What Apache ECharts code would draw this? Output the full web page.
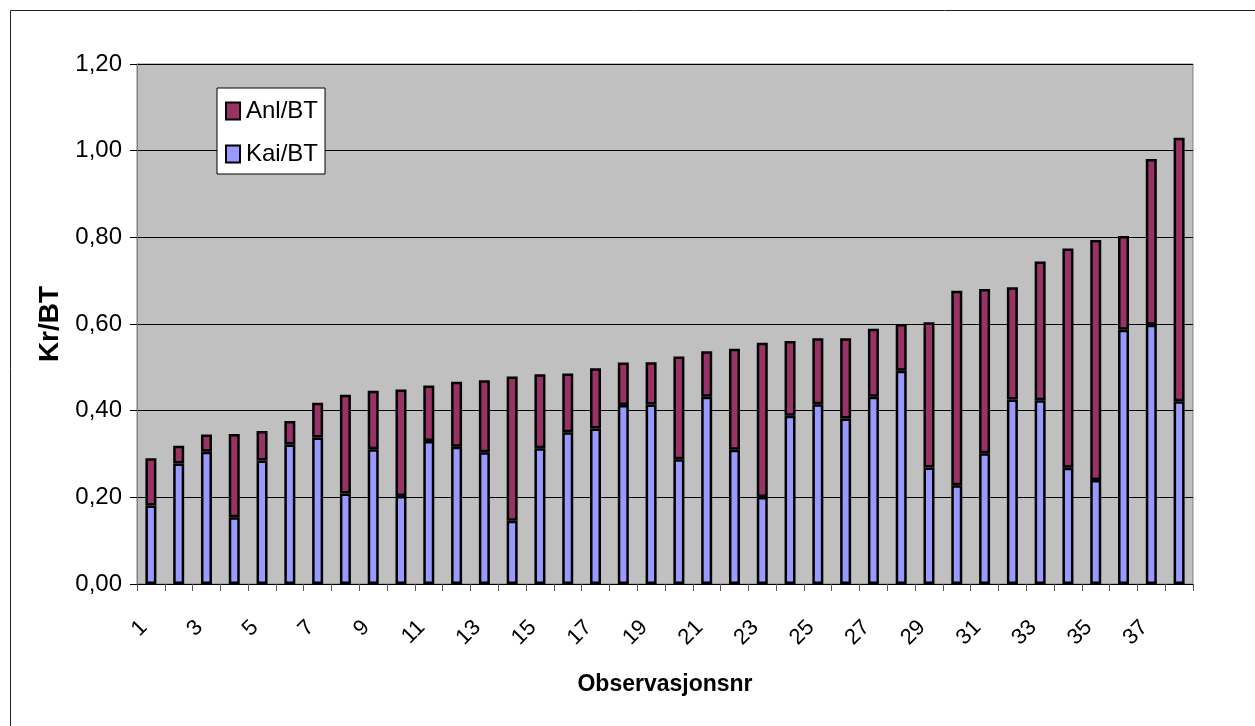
<!DOCTYPE html>
<html>
<head>
<meta charset="utf-8">
<script src="https://cdn.jsdelivr.net/npm/echarts@6/dist/echarts.min.js"></script>
<style>
  html, body { margin: 0; padding: 0; background: #fff; }
  #chart { width: 1255px; height: 726px; }
</style>
</head>
<body>
<div id="chart"></div>
<script>
// Observation numbers 1..38
const observations = [
  '1','2','3','4','5','6','7','8','9','10','11','12','13','14','15','16','17','18','19',
  '20','21','22','23','24','25','26','27','28','29','30','31','32','33','34','35','36','37','38'
];

// Kai/BT (lower part of each stacked bar)
const kaiBT = [
  0.181, 0.278, 0.305, 0.154, 0.285, 0.322, 0.338, 0.209, 0.311, 0.203,
  0.330, 0.317, 0.304, 0.146, 0.313, 0.350, 0.359, 0.413, 0.414, 0.288,
  0.432, 0.310, 0.201, 0.388, 0.415, 0.382, 0.432, 0.492, 0.269, 0.228,
  0.302, 0.426, 0.424, 0.268, 0.240, 0.587, 0.598, 0.422
];

// Anl/BT (upper part of each stacked bar)
const anlBT = [
  0.109, 0.041, 0.040, 0.192, 0.068, 0.054, 0.080, 0.228, 0.135, 0.246,
  0.128, 0.150, 0.166, 0.333, 0.171, 0.136, 0.139, 0.098, 0.098, 0.237,
  0.105, 0.233, 0.356, 0.173, 0.152, 0.185, 0.157, 0.108, 0.335, 0.449,
  0.379, 0.259, 0.320, 0.506, 0.554, 0.216, 0.383, 0.608
];

const seriesNames = ['Kai/BT', 'Anl/BT'];
const legendOrder = ['Anl/BT', 'Kai/BT'];
const yTicks = { min: 0, max: 1.2, step: 0.2 };

const FONT = '"Liberation Sans", Arial, sans-serif';

const chart = echarts.init(document.getElementById('chart'), null, { renderer: 'canvas' });

chart.setOption({
  animation: false,
  backgroundColor: '#ffffff',
  graphic: [{
    type: 'rect',
    shape: { x: 10.5, y: 10.5, width: 1400, height: 900 },
    style: { fill: 'none', stroke: '#222', lineWidth: 1 },
    silent: true,
    z: -10
  }],
  grid: {
    left: 137, top: 64, right: 62, bottom: 142,
    show: true,
    backgroundColor: '#C0C0C0',
    borderColor: '#808080',
    borderWidth: 1
  },
  legend: {
    data: legendOrder,
    orient: 'vertical',
    left: 217, top: 88,
    backgroundColor: '#ffffff',
    borderColor: '#000',
    borderWidth: 1,
    borderRadius: 0,
    padding: [11, 7, 8, 8],
    itemGap: 19,
    itemWidth: 14,
    itemHeight: 17,
    icon: 'rect',
    textStyle: { fontFamily: FONT, fontSize: 24, color: '#000', padding: [0, 0, 0, 1] }
  },
  xAxis: {
    type: 'category',
    data: observations,
    boundaryGap: true,
    name: 'Observasjonsnr',
    nameLocation: 'middle',
    nameGap: 89,
    nameTextStyle: { fontFamily: FONT, fontSize: 23, fontWeight: 'bold', color: '#000' },
    axisLine: { lineStyle: { color: '#000', width: 1 } },
    axisTick: { show: true, interval: 0, length: 7, lineStyle: { color: '#555' } },
    axisLabel: {
      interval: 1,
      rotate: 45,
      margin: 33,
      padding: [0, 10, 0, 0],
      fontFamily: FONT,
      fontSize: 22,
      color: '#000'
    },
    splitLine: { show: false }
  },
  yAxis: {
    type: 'value',
    min: yTicks.min,
    max: yTicks.max,
    interval: yTicks.step,
    name: 'Kr/BT',
    nameLocation: 'middle',
    nameGap: 72,
    nameRotate: 90,
    nameTextStyle: { fontFamily: FONT, fontSize: 28, fontWeight: 'bold', color: '#000' },
    axisLine: { show: true, lineStyle: { color: '#808080', width: 1 } },
    axisTick: { show: true, length: 7, lineStyle: { color: '#000' } },
    axisLabel: {
      margin: 15,
      fontFamily: FONT,
      fontSize: 24,
      color: '#000',
      formatter: v => v.toFixed(2).replace('.', ',')
    },
    splitLine: { show: true, lineStyle: { color: '#000', width: 1 } }
  },
  series: [
    {
      name: seriesNames[0],
      type: 'bar',
      stack: 'total',
      data: kaiBT,
      barWidth: 11,
      itemStyle: { color: '#9999FF', borderColor: '#000', borderWidth: 2.5 }
    },
    {
      name: seriesNames[1],
      type: 'bar',
      stack: 'total',
      data: anlBT,
      barWidth: 11,
      itemStyle: { color: '#993366', borderColor: '#000', borderWidth: 2.5 }
    }
  ]
});
</script>
</body>
</html>
